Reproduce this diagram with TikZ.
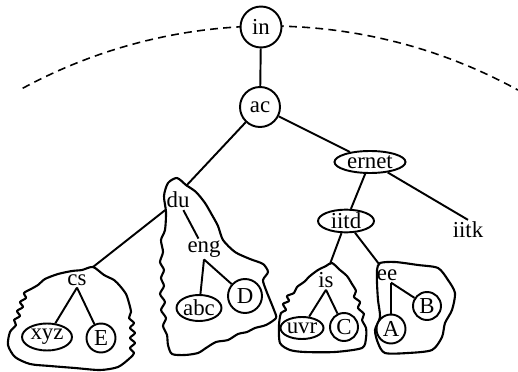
\documentclass[tikz,border=0pt]{standalone}
\usepackage{fontspec}
\setmainfont{Liberation Serif}
\usetikzlibrary{shapes.geometric}

\begin{document}
\begin{tikzpicture}[
    x=0.02cm,y=-0.02cm,
    every node/.style={font=\fontsize{13}{15}\selectfont},
    bubble/.style={draw, circle, line width=1.1pt, inner sep=0pt, fill=white},
    oval/.style={draw, ellipse, line width=1.1pt, inner sep=0pt, fill=white},
    lbl/.style={inner sep=1pt},
    link/.style={line width=1.1pt},
    region/.style={line width=1.2pt, line join=round}
    ]
    \useasboundingbox (0,0) rectangle (518,372);
    % domain boundary
    \draw[dash pattern=on 4.5pt off 3pt, line width=0.9pt]
      plot[domain=-118.4:-61.2, samples=80] ({268.7+517.3*cos(\x)},{543.3+517.3*sin(\x)});
    % zones
    \draw[region] plot[smooth cycle, tension=0.45] coordinates {(93,267) (104,275) (114,280) (120,286)
      (126,294) (129,303) (131,312) (129,318) (134,323) (130,328) (135,333) (130,338) (135,343)
      (130,348) (134,353) (130,358) (118,367) (100,370) (75,368) (50,366) (30,364) (15,357)
      (8,345) (10,332) (16,325) (14,320) (20,316) (17,311) (23,307) (20,302) (26,298) (24,293)
      (31,289) (38,285) (45,279) (58,274) (72,271) (82,270)};
    \draw[region] plot[smooth cycle, tension=0.45] coordinates {(177,178) (186,185) (196,192)
      (205,203) (212,215) (218,226) (223,240) (235,252) (250,259) (263,264) (268,272) (263,280)
      (266,290) (270,300) (274,310) (276,318) (266,325) (255,328) (247,332) (238,334) (228,340)
      (216,342) (206,348) (198,353) (185,355) (172,354) (168,345) (167,335) (163,326) (166,318)
      (161,310) (165,302) (160,294) (164,286) (161,278) (164,270) (160,262) (163,252) (161,240)
      (165,230) (166,212) (164,196) (168,183)};
    \draw[region] plot[smooth cycle, tension=0.45] coordinates {(332,263) (340,270) (347,276)
      (352,284) (356,291) (354,297) (360,302) (358,308) (364,314) (362,320) (366,328) (366,338)
      (362,348) (335,352) (305,352) (290,350) (280,343) (279,325) (281,313) (286,310) (283,304)
      (289,301) (287,296) (294,293) (297,287) (304,282) (310,276) (318,270) (326,266)};
    \draw[region] plot[smooth cycle, tension=0.45] coordinates {(380,263) (395,262) (418,265)
      (438,268) (448,280) (455,293) (452,310) (445,323) (442,337) (432,350) (408,353) (385,353)
      (378,343) (375,330) (380,317) (378,300) (377,283) (377,270)};
    % tree
    \node[bubble, minimum size=0.82cm] (in) at (261,27) {in};
    \node[bubble, minimum size=0.8cm] (ac) at (260,107) {ac};
    \node[oval, minimum width=1.42cm, minimum height=0.44cm] (ernet) at (370,162) {ernet};
    \node[oval, minimum width=1.12cm, minimum height=0.44cm] (iitd) at (346,221) {iitd};
    \node[lbl] (iitk) at (468,230) {iitk};
    \node[lbl] (du) at (178,200) {du};
    \node[lbl] (eng) at (204,249) {eng};
    \node[oval, minimum width=0.9cm, minimum height=0.52cm] (abc) at (199,308) {abc};
    \node[bubble, minimum size=0.68cm] (D) at (245,296) {D};
    \node[lbl] (cs) at (77,280) {cs};
    \node[oval, minimum width=1.0cm, minimum height=0.54cm] (xyz) at (47,337) {xyz};
    \node[bubble, minimum size=0.58cm] (E) at (101,338) {E};
    \node[lbl] (is) at (326,280) {is};
    \node[oval, minimum width=0.86cm, minimum height=0.44cm] (uvr) at (302,328) {uvr};
    \node[bubble, minimum size=0.56cm] (C) at (344,327) {C};
    \node[lbl] (ee) at (387,275) {ee};
    \node[bubble, minimum size=0.58cm] (A) at (391,329) {A};
    \node[bubble, minimum size=0.56cm] (B) at (427,306) {B};
    \coordinate (dutop) at (186,186);
    \coordinate (cstop) at (93,267);
    \coordinate (istop) at (330,264);
    \coordinate (eetop) at (379,264);

    \draw[link] (in) -- (ac);
    \draw[link] (ac) -- (dutop);
    \draw[link] (ac) -- (ernet);
    \draw[link] (ernet) -- (iitd);
    \draw[link] (ernet) -- (iitk.north);
    \draw[link] (iitd) -- (istop);
    \draw[link] (iitd) -- (eetop);
    \draw[link] (du) -- (cstop);
    \draw[link] (du) -- (eng);
    \draw[link] (eng.south) -- (abc);
    \draw[link] (eng.south) -- (D);
    \draw[link] (cs.south) -- (xyz);
    \draw[link] (cs.south) -- (E);
    \draw[link] (is.south) -- (uvr);
    \draw[link] (is.south) -- (C);
    \draw[link] (A |- ee.south) -- (A);
    \draw[link] (A |- ee.south) -- (B);
\end{tikzpicture}
\end{document}
